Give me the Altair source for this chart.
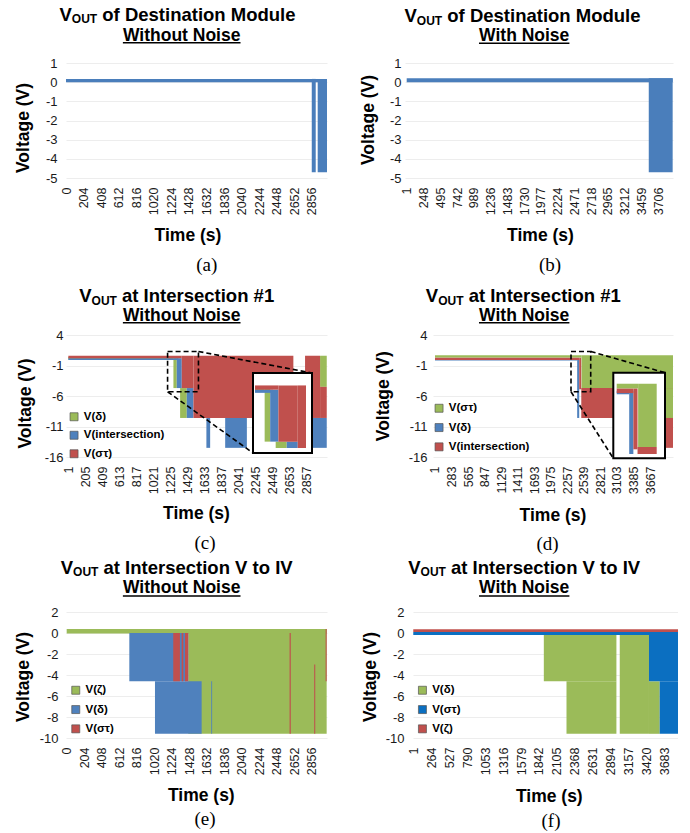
import altair as alt
import pandas as pd

SANS = "Liberation Sans, Arial, Helvetica, sans-serif"
SERIF = "Liberation Serif, Times New Roman, serif"
GREEN, BLUE, RED = "#9bbb59", "#4f81bd", "#c0504d"
DEST_BLUE = "#4a7ebb"
DEEP_BLUE = "#0b6fc1"

# ---------------- data: voltage envelopes (start time, end time, upper V, lower V)
# (a) destination module, without noise
A_SERIES = ["V(out)", "V(out)", "V(out)"]
A_T0 = [0, 2854, 2923]
A_T1 = [3031, 2900, 3031]
A_HI = [0.17, 0.17, 0.17]
A_LO = [0.0, -4.7, -4.7]

# (b) destination module, with noise
B_SERIES = ["V(out)", "V(out)"]
B_T0 = [1, 3566]
B_T1 = [3918, 3918]
B_HI = [0.2, 0.2]
B_LO = [0.0, -4.7]

# (c) intersection #1, without noise (rows in drawing order)
C_SERIES = ["V(δ)"] * 4 + ["V(intersection)"] * 6 + ["V(στ)"] * 5
C_T0 = [1, 1260, 1340, 3017, 1, 1300, 1420, 1655, 1880, 2897, 1, 1360, 1500, 2837, 3017]
C_T1 = [1260, 1300, 1420, 3097, 1320, 1360, 1500, 1700, 2140, 3097, 1360, 1500, 2697, 3017, 3097]
C_HI = [0.4, 0.4, -4.7, 0.6, 0.2, 0.2, -4.7, -9.6, -9.6, -9.6, 0.6, 0.6, 0.6, 0.6, -4.5]
C_LO = [0.0, -4.7, -9.6, -4.5, -0.1, -4.7, -9.6, -14.5, -14.5, -14.5, 0.2, -4.7, -9.6, -9.6, -9.6]

# (d) intersection #1, with noise
D_SERIES = ["V(δ)"] * 2 + ["V(intersection)"] * 4 + ["V(στ)"] * 3
D_T0 = [1, 2425, 1, 2460, 2495, 3808, 1, 2500, 3808]
D_T1 = [2425, 2460, 2460, 2495, 4059, 4059, 2500, 4059, 4059]
D_HI = [0.1, 0.1, 0.3, 0.3, -4.7, -9.6, 0.7, 0.7, -4.7]
D_LO = [-0.2, -9.6, -0.1, -4.9, -9.6, -14.5, 0.3, -4.7, -9.6]

# (e) intersection V to IV, without noise
E_SERIES = ["V(ζ)"] * 2 + ["V(δ)"] * 3 + ["V(στ)"] * 6
E_T0 = [0, 1417, 730, 1029, 1685, 1242, 1340, 1379, 2598, 2885, 3018]
E_T1 = [3030, 3030, 1417, 1573, 1695, 1320, 1359, 1417, 2612, 2897, 3030]
E_HI = [0.38, 0.38, 0.0, -4.6, -4.6, 0.0, 0.0, 0.0, 0.0, -3.0, 0.38]
E_LO = [-0.05, -9.6, -4.6, -9.6, -9.6, -4.6, -4.6, -4.6, -9.6, -9.6, -4.6]

# (f) intersection V to IV, with noise
F_SERIES = ["V(δ)"] * 4 + ["V(στ)"] * 3 + ["V(ζ)"]
F_T0 = [1913, 2245, 3025, 3453, 1, 3453, 3610, 1]
F_T1 = [2976, 2976, 3453, 3610, 3878, 3878, 3878, 3878]
F_HI = [0.0, -4.6, 0.0, -4.6, 0.1, 0.0, -4.6, 0.35]
F_LO = [-4.6, -9.6, -9.6, -9.6, -0.2, -4.6, -9.6, 0.1]

# ---------------- axis tick labels
A_XTICKS = [0, 204, 408, 612, 816, 1020, 1224, 1428, 1632, 1836, 2040, 2244, 2448, 2652, 2856]
B_XTICKS = [1, 248, 495, 742, 989, 1236, 1483, 1730, 1977, 2224, 2471, 2718, 2965, 3212, 3459, 3706]
C_XTICKS = [1, 205, 409, 613, 817, 1021, 1225, 1429, 1633, 1837, 2041, 2245, 2449, 2653, 2857]
D_XTICKS = [1, 283, 565, 847, 1129, 1411, 1693, 1975, 2257, 2539, 2821, 3103, 3385, 3667]
E_XTICKS = [0, 204, 408, 612, 816, 1020, 1224, 1428, 1632, 1836, 2040, 2244, 2448, 2652, 2856]
F_XTICKS = [1, 264, 527, 790, 1053, 1316, 1579, 1842, 2105, 2368, 2631, 2894, 3157, 3420, 3683]
AB_YTICKS = [1, 0, -1, -2, -3, -4, -5]
CD_YTICKS = [4, -1, -6, -11, -16]
EF_YTICKS = [2, 0, -2, -4, -6, -8, -10]

# Helvetica-Bold advance widths (per 1000 em) for centring composite titles
AFM_BOLD = {" ": 278, "#": 556, "1": 556, "D": 722, "I": 278, "M": 833, "N": 722, "O": 778,
            "T": 611, "U": 722, "V": 667, "W": 944, "a": 556, "c": 556, "d": 611, "e": 556,
            "f": 333, "h": 611, "i": 278, "l": 278, "n": 611, "o": 611, "r": 389, "s": 556,
            "t": 333, "u": 611}


def text_width(s, size):
    return sum(AFM_BOLD.get(ch, 556) for ch in s) * size / 1000.0


ONE = pd.DataFrame({"k": [0]})
TITLE_SIZE = 18.5
LINE2_SIZE = 17.5
AXIS_TITLE_SIZE = 17.5
SUB_SIZE = 12


def txt(s, x, y, size, weight="bold", font=SANS, align="center", baseline="middle"):
    return alt.Chart(ONE).mark_text(
        text=s, fontSize=size, fontWeight=weight, font=font, align=align,
        baseline=baseline, color="#000"
    ).encode(x=alt.value(x), y=alt.value(y))


def title_block(rest, line2, t1, t2, ul):
    wv = text_width("V", TITLE_SIZE)
    ws = text_width("OUT", SUB_SIZE)
    gap = text_width(" ", TITLE_SIZE)
    wr = text_width(rest, TITLE_SIZE)
    left = t1[0] - (wv + ws + gap + wr) / 2
    yb = t1[1] + 0.3 * TITLE_SIZE
    w2 = text_width(line2, LINE2_SIZE)
    return [
        txt("V", left, yb, TITLE_SIZE, align="left", baseline="alphabetic"),
        txt("OUT", left + wv, yb + 2.5, SUB_SIZE, align="left", baseline="alphabetic"),
        txt(rest, left + wv + ws + gap, yb, TITLE_SIZE, align="left", baseline="alphabetic"),
        txt(line2, t2[0], t2[1] + 0.5, LINE2_SIZE),
        alt.Chart(ONE).mark_rule(color="#000", strokeWidth=1.4).encode(
            x=alt.value(t2[0] - w2 / 2), x2=alt.value(t2[0] + w2 / 2), y=alt.value(ul)),
    ]


PANELS = {
    "a": dict(series=A_SERIES, t0=A_T0, t1=A_T1, hi=A_HI, lo=A_LO, W=261, H=115,
              xdom=[0, 3031], ydom=[-5, 1], xticks=A_XTICKS, yticks=AB_YTICKS,
              rest="of Destination Module", line2="Without Noise",
              t1p=(111.5, -48), t2p=(115.7, -28), ul=-20.3, ytitle=(-43, 64.5),
              xtitle=(121.5, 57), cap=("(a)", 140.7, 87), ylabpad=9, color=DEST_BLUE,
              frame=(66, 63, 97)),
    "b": dict(series=B_SERIES, t0=B_T0, t1=B_T1, hi=B_HI, lo=B_LO, W=268, H=115,
              xdom=[-24, 3923], ydom=[-5, 1], xticks=B_XTICKS, yticks=AB_YTICKS,
              rest="of Destination Module", line2="With Noise",
              t1p=(117.5, -46.3), t2p=(119.2, -28), ul=-19.7, ytitle=(-36.7, 56.5),
              xtitle=(135, 57.8), cap=("(b)", 145, 87), ylabpad=4, color=DEST_BLUE,
              frame=(78, 63, 97)),
    "c": dict(series=C_SERIES, t0=C_T0, t1=C_T1, hi=C_HI, lo=C_LO, W=261, H=122,
              xdom=[-27, 3100], ydom=[-16, 4], xticks=C_XTICKS, yticks=CD_YTICKS,
              rest="at Intersection #1", line2="Without Noise",
              t1p=(110.7, -38.3), t2p=(115.7, -20), ul=-12.3, ytitle=(-41, 68),
              xtitle=(130, 56.3), cap=("(c)", 139, 86.3), ylabpad=3,
              frame=(66, 60, 97),
              legend=(["V(δ)", "V(intersection)", "V(στ)"], [GREEN, BLUE, RED], 2.3, 82.5, 17.5),
              inset=dict(t=[1190, 1560], v=[-5.3, 1.3], rx=[189, 240], ry=[113, 43],
                         bx=[187, 246], by=[38, 118])),
    "d": dict(series=D_SERIES, t0=D_T0, t1=D_T1, hi=D_HI, lo=D_LO, W=240, H=122,
              xdom=[-33, 4059], ydom=[-16, 4], xticks=D_XTICKS, yticks=CD_YTICKS,
              rest="at Intersection #1", line2="With Noise",
              t1p=(90.3, -38.3), t2p=(91.2, -20), ul=-12.3, ytitle=(-49.7, 60.7),
              xtitle=(119.5, 58.8), cap=("(d)", 114.5, 87), ylabpad=6,
              frame=(106, 60, 97),
              legend=(["V(στ)", "V(δ)", "V(intersection)"], [GREEN, BLUE, RED], 0.3, 74, 18.3),
              inset=dict(t=[2320, 2656], v=[-5.3, 1.3], rx=[183.7, 223.7], ry=[119, 41.7],
                         bx=[180.3, 232], by=[37.7, 123.3])),
    "e": dict(series=E_SERIES, t0=E_T0, t1=E_T1, hi=E_HI, lo=E_LO, W=261, H=126,
              xdom=[-8, 3034], ydom=[-10, 2], xticks=E_XTICKS, yticks=EF_YTICKS,
              rest="at Intersection V to IV", line2="Without Noise",
              t1p=(110.7, -44), t2p=(115.7, -24.3), ul=-16, ytitle=(-43, 64.5),
              xtitle=(134.8, 57.7), cap=("(e)", 139, 81), ylabpad=8,
              frame=(66, 57.3, 96),
              legend=(["V(ζ)", "V(δ)", "V(στ)"], [GREEN, BLUE, RED], 4, 79, 18.3)),
    "f": dict(series=F_SERIES, t0=F_T0, t1=F_T1, hi=F_HI, lo=F_LO, W=265, H=126,
              xdom=[-3, 3878], ydom=[-10, 2], xticks=F_XTICKS, yticks=EF_YTICKS,
              rest="at Intersection V to IV", line2="With Noise",
              t1p=(111.2, -44), t2p=(111.2, -24.3), ul=-16, ytitle=(-43, 64.5),
              xtitle=(135.8, 58.5), cap=("(f)", 138, 83), ylabpad=9,
              frame=(86, 57.3, 96),
              legend=(["V(δ)", "V(στ)", "V(ζ)"], [GREEN, DEEP_BLUE, RED], 3.7, 79, 18.3)),
}


def build(key):
    p = PANELS[key]
    W, H = p["W"], p["H"]
    df = pd.DataFrame({"s": p["series"], "t0": p["t0"], "t1": p["t1"], "hi": p["hi"], "lo": p["lo"]})
    xs = alt.Scale(domain=p["xdom"], nice=False, zero=False)
    ys = alt.Scale(domain=p["ydom"], nice=False, zero=False)
    xaxis = alt.Axis(values=p["xticks"], labelAngle=-90, labelExpr="'' + datum.value",
                     labelFont=SANS, labelFontSize=12.5, labelColor="#1a1a1a", labelPadding=9,
                     ticks=False, tickSize=0, domain=False, grid=False, labelOverlap=False,
                     labelFlush=False, title="Time (s)", titleFont=SANS, titleFontSize=AXIS_TITLE_SIZE,
                     titleFontWeight="bold", titleColor="#000", titleX=p["xtitle"][0],
                     titleY=p["xtitle"][1], titleAlign="center", titleBaseline="middle")
    yaxis = alt.Axis(values=p["yticks"], labelExpr="'' + datum.value", labelFont=SANS,
                     labelFontSize=13, labelColor="#1a1a1a", labelPadding=p["ylabpad"],
                     ticks=False, tickSize=0, domain=False, grid=True, gridColor="#ededed",
                     gridWidth=1, labelOverlap=False, labelFlush=False, title="Voltage (V)",
                     titleFont=SANS, titleFontSize=AXIS_TITLE_SIZE, titleFontWeight="bold",
                     titleColor="#000", titleAngle=-90, titleX=p["ytitle"][0],
                     titleY=p["ytitle"][1], titleAlign="center", titleBaseline="middle")
    if "legend" in p:
        names, cols, lx, ly, step = p["legend"]
        color = alt.Color("s:N", scale=alt.Scale(domain=names, range=cols),
                          legend=alt.Legend(orient="none", legendX=lx, legendY=ly - 6.5, title=None,
                                            symbolType="square", symbolSize=64,
                                            symbolStrokeColor="#555", symbolStrokeWidth=0.7,
                                            labelFont=SANS, labelFontSize=11.5,
                                            labelFontWeight="bold", labelColor="#000",
                                            labelOffset=4, rowPadding=step - 12, padding=0))
    else:
        color = alt.value(p["color"])

    rects = alt.Chart(df).mark_rect(strokeWidth=0).encode(
        x=alt.X("t0:Q", scale=xs, axis=xaxis), x2="t1:Q",
        y=alt.Y("hi:Q", scale=ys, axis=yaxis), y2="lo:Q", color=color)
    main = [rects]

    inset_layers = []
    if "inset" in p:
        ins = p["inset"]

        def mx(t):
            return (t - p["xdom"][0]) / (p["xdom"][1] - p["xdom"][0]) * W

        def my(v):
            return (p["ydom"][1] - v) / (p["ydom"][1] - p["ydom"][0]) * H

        box = pd.DataFrame({"t0": [ins["t"][0]], "t1": [ins["t"][1]],
                            "hi": [ins["v"][1]], "lo": [ins["v"][0]]})
        main.append(alt.Chart(box).mark_rect(filled=False, stroke="#000", strokeDash=[5, 3],
                                             strokeWidth=1.6).encode(
            x=alt.X("t0:Q", scale=xs, axis=xaxis), x2="t1:Q",
            y=alt.Y("hi:Q", scale=ys, axis=yaxis), y2="lo:Q"))
        bx, by = ins["bx"], ins["by"]
        # leader lines from the dashed region to the magnified box
        main.append(alt.Chart(ONE).mark_rule(color="#000", strokeDash=[5, 3], strokeWidth=1.6).encode(
            x=alt.value(mx(ins["t"][1])), y=alt.value(my(ins["v"][1])),
            x2=alt.value(bx[1]), y2=alt.value(by[0])))
        main.append(alt.Chart(ONE).mark_rule(color="#000", strokeDash=[5, 3], strokeWidth=1.6).encode(
            x=alt.value(mx(ins["t"][0])), y=alt.value(my(ins["v"][0])),
            x2=alt.value(bx[0]), y2=alt.value(by[1])))
        main.append(alt.Chart(ONE).mark_rect(fill="white", strokeWidth=0).encode(
            x=alt.value(bx[0]), x2=alt.value(bx[1]), y=alt.value(by[0]), y2=alt.value(by[1])))

        sub = df[(df.t1 > ins["t"][0]) & (df.t0 < ins["t"][1]) &
                 (df.hi > ins["v"][0]) & (df.lo < ins["v"][1])]
        sx = alt.Scale(domain=ins["t"], range=ins["rx"], clamp=True, nice=False, zero=False)
        sy = alt.Scale(domain=ins["v"], range=ins["ry"], clamp=True, nice=False, zero=False)
        inset_layers.append(alt.Chart(sub).mark_rect(strokeWidth=0).encode(
            x=alt.X("t0:Q", scale=sx, axis=None), x2="t1:Q",
            y=alt.Y("hi:Q", scale=sy, axis=None), y2="lo:Q", color=color))
        inset_layers.append(alt.Chart(ONE).mark_rect(filled=False, stroke="#000", strokeWidth=2).encode(
            x=alt.value(bx[0]), x2=alt.value(bx[1]), y=alt.value(by[0]), y2=alt.value(by[1])))

    main += title_block(p["rest"], p["line2"], p["t1p"], p["t2p"], p["ul"])
    cap, cx, cy = p["cap"]
    main.append(txt(cap, cx, H + cy, 19, weight="normal", font=SERIF))
    # invisible frame corners fixing the panel's outer extent in the grid
    left, top, bottom = p["frame"]
    for fy in (-top, H + bottom - 1):
        main.append(alt.Chart(ONE).mark_rect(opacity=0).encode(
            x=alt.value(-left), x2=alt.value(-left + 1), y=alt.value(fy), y2=alt.value(fy + 1)))

    chart = alt.layer(*main).properties(width=W, height=H)
    if inset_layers:
        chart = alt.layer(
            chart, alt.layer(*inset_layers).properties(width=W, height=H)
        ).resolve_scale(x="independent", y="independent").properties(width=W, height=H)
    return chart


def row(left, right):
    return alt.hconcat(left, right, spacing=0).resolve_scale(
        x="independent", y="independent", color="independent")


chart = alt.vconcat(
    row(build("a"), build("b")),
    row(build("c"), build("d")),
    row(build("e"), build("f")),
    spacing=0,
).resolve_scale(x="independent", y="independent", color="independent").configure_view(
    stroke=None).properties(padding=0, background="white")

chart.save("out.html", embed_options={"renderer": "svg", "actions": False})
